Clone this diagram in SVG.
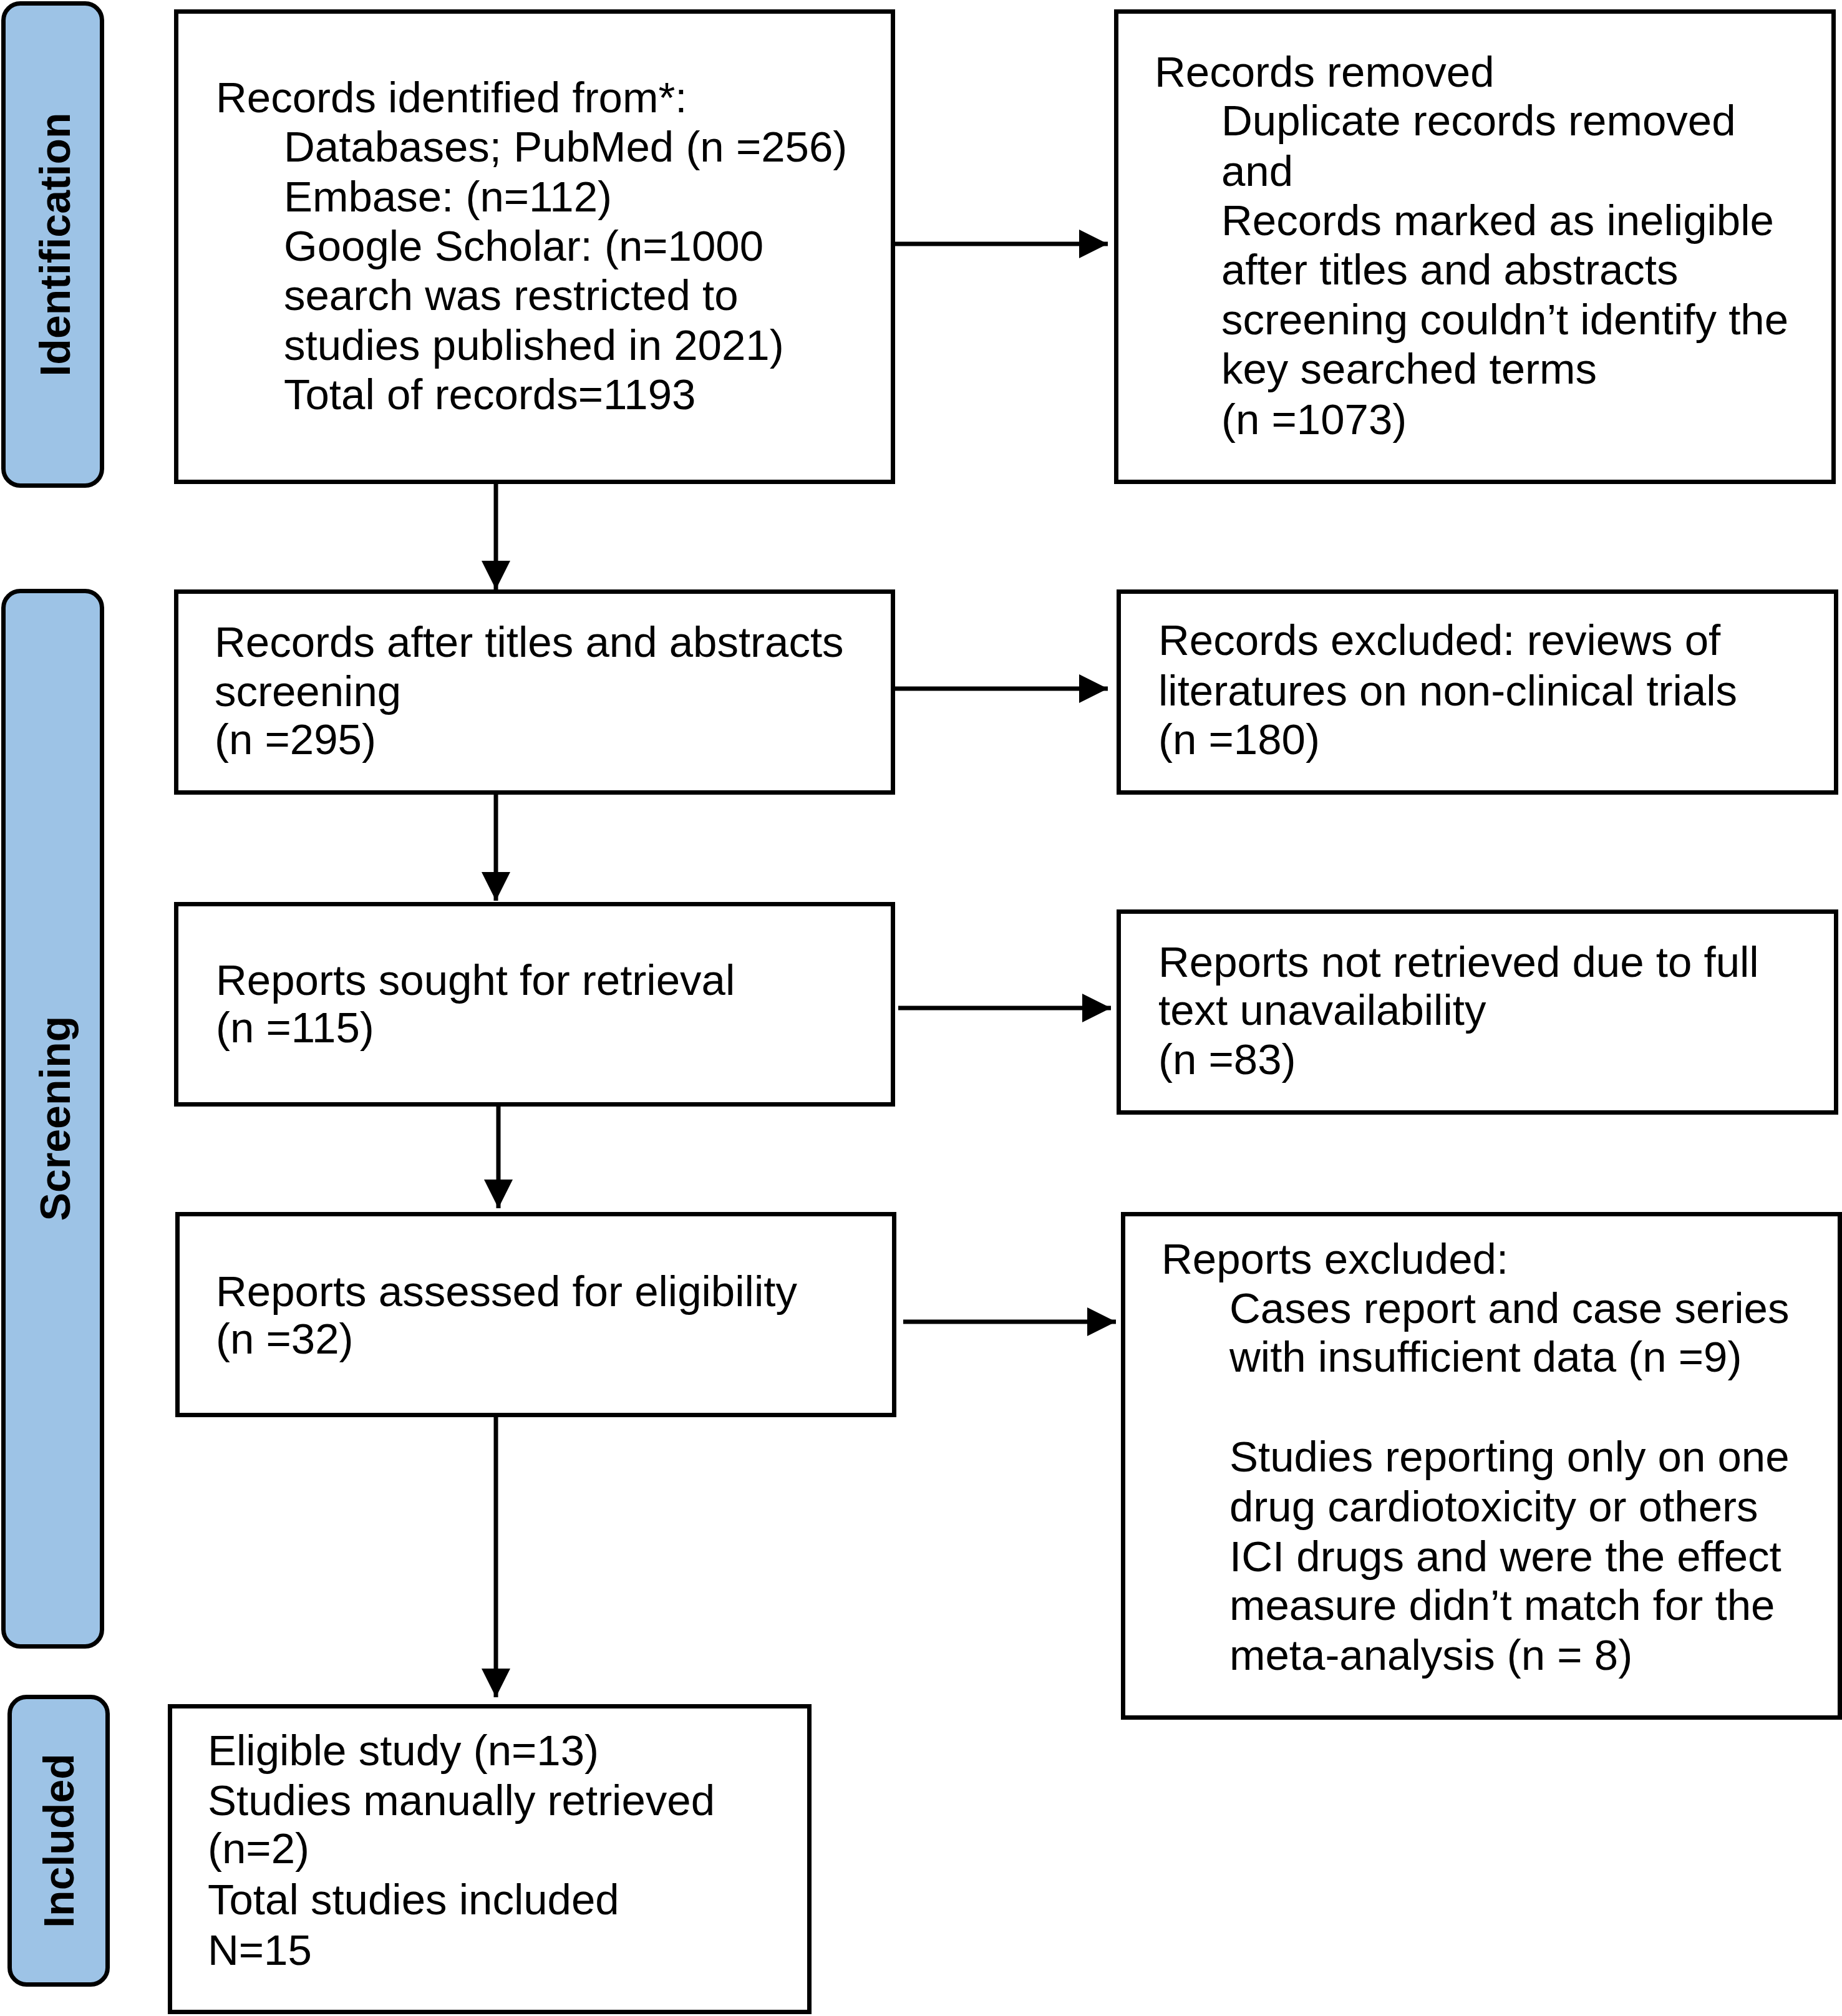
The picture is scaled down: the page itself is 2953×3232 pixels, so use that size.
<svg xmlns="http://www.w3.org/2000/svg" width="2953" height="3232" viewBox="0 0 2953 3232">
<defs>
<style>
.box{fill:#ffffff;stroke:#000000;stroke-width:7}
.bar{fill:#9dc3e6;stroke:#000000;stroke-width:7}
.t{font-family:"Liberation Sans",Arial,sans-serif;font-size:69px;fill:#000000}
.lbl{font-family:"Liberation Sans",Arial,sans-serif;font-size:68px;font-weight:bold;fill:#000000;text-anchor:middle}
.conn{stroke:#000000;stroke-width:7;fill:none;marker-end:url(#arrow)}
</style>
<marker id="arrow" viewBox="0 0 46 46" markerWidth="46" markerHeight="46" markerUnits="userSpaceOnUse" refX="46" refY="23" orient="auto">
<path d="M0,0 L46,23 L0,46 z" fill="#000000"/>
</marker>
</defs>
<rect width="2953" height="3232" fill="#ffffff"/>

<g id="bar-identification">
<rect class="bar" x="5.5" y="5.5" width="158" height="773" rx="27" ry="27"/>
<text class="lbl" transform="translate(112,392) rotate(-90)">Identification</text>
</g>
<g id="bar-screening">
<rect class="bar" x="5.5" y="947.5" width="158" height="1692" rx="27" ry="27"/>
<text class="lbl" transform="translate(112,1793) rotate(-90)">Screening</text>
</g>
<g id="bar-included">
<rect class="bar" x="15.5" y="2720.5" width="157" height="461" rx="27" ry="27"/>
<text class="lbl" transform="translate(118,2951) rotate(-90)">Included</text>
</g>

<g id="connectors">
<line class="conn" x1="1431" y1="391" x2="1776" y2="391"/>
<line class="conn" x1="795" y1="772" x2="795" y2="945"/>
<line class="conn" x1="1431" y1="1104" x2="1776" y2="1104"/>
<line class="conn" x1="795" y1="1274" x2="795" y2="1444"/>
<line class="conn" x1="1440" y1="1616" x2="1781" y2="1616"/>
<line class="conn" x1="799" y1="1770" x2="799" y2="1937"/>
<line class="conn" x1="1448" y1="2119" x2="1789" y2="2119"/>
<line class="conn" x1="795" y1="2268" x2="795" y2="2721"/>
</g>

<g id="node-identified">
<rect class="box" x="282.5" y="18.5" width="1149" height="754"/>
<text class="t" x="346" y="180">Records identified from*:</text>
<text class="t" x="455" y="259">Databases; PubMed (n =256)</text>
<text class="t" x="455" y="339">Embase: (n=112)</text>
<text class="t" x="455" y="418">Google Scholar: (n=1000</text>
<text class="t" x="455" y="497">search was restricted to</text>
<text class="t" x="455" y="577">studies published in 2021)</text>
<text class="t" x="455" y="656">Total of records=1193</text>
</g>

<g id="node-removed">
<rect class="box" x="1789.5" y="18.5" width="1150" height="754"/>
<text class="t" x="1851" y="139">Records removed</text>
<text class="t" x="1958" y="217">Duplicate records removed</text>
<text class="t" x="1958" y="298">and</text>
<text class="t" x="1958" y="377">Records marked as ineligible</text>
<text class="t" x="1958" y="456">after titles and abstracts</text>
<text class="t" x="1958" y="536">screening couldn’t identify the</text>
<text class="t" x="1958" y="615">key searched terms</text>
<text class="t" x="1958" y="696">(n =1073)</text>
</g>

<g id="node-screened">
<rect class="box" x="282.5" y="948.5" width="1149" height="322"/>
<text class="t" x="344" y="1053">Records after titles and abstracts</text>
<text class="t" x="344" y="1132">screening</text>
<text class="t" x="344" y="1209">(n =295)</text>
</g>

<g id="node-excluded-records">
<rect class="box" x="1793.5" y="948.5" width="1150" height="322"/>
<text class="t" x="1857" y="1050">Records excluded: reviews of</text>
<text class="t" x="1857" y="1131">literatures on non-clinical trials</text>
<text class="t" x="1857" y="1209">(n =180)</text>
</g>

<g id="node-sought">
<rect class="box" x="282.5" y="1449.5" width="1149" height="321"/>
<text class="t" x="346" y="1595">Reports sought for retrieval</text>
<text class="t" x="346" y="1671">(n =115)</text>
</g>

<g id="node-not-retrieved">
<rect class="box" x="1793.5" y="1461.5" width="1150" height="322"/>
<text class="t" x="1857" y="1566">Reports not retrieved due to full</text>
<text class="t" x="1857" y="1643">text unavailability</text>
<text class="t" x="1857" y="1722">(n =83)</text>
</g>

<g id="node-assessed">
<rect class="box" x="284.5" y="1946.5" width="1149" height="322"/>
<text class="t" x="346" y="2094">Reports assessed for eligibility</text>
<text class="t" x="346" y="2170">(n =32)</text>
</g>

<g id="node-reports-excluded">
<rect class="box" x="1800.5" y="1946.5" width="1149" height="807"/>
<text class="t" x="1862" y="2042">Reports excluded:</text>
<text class="t" x="1971" y="2121">Cases report and case series</text>
<text class="t" x="1971" y="2199">with insufficient data (n =9)</text>
<text class="t" x="1971" y="2359">Studies reporting only on one</text>
<text class="t" x="1971" y="2439">drug cardiotoxicity or others</text>
<text class="t" x="1971" y="2519">ICI drugs and were the effect</text>
<text class="t" x="1971" y="2597">measure didn’t match for the</text>
<text class="t" x="1971" y="2677">meta-analysis (n = 8)</text>
</g>

<g id="node-included">
<rect class="box" x="272.5" y="2735.5" width="1025" height="490"/>
<text class="t" x="333" y="2830">Eligible study (n=13)</text>
<text class="t" x="333" y="2910">Studies manually retrieved</text>
<text class="t" x="333" y="2987">(n=2)</text>
<text class="t" x="333" y="3069">Total studies included</text>
<text class="t" x="333" y="3150">N=15</text>
</g>
</svg>
